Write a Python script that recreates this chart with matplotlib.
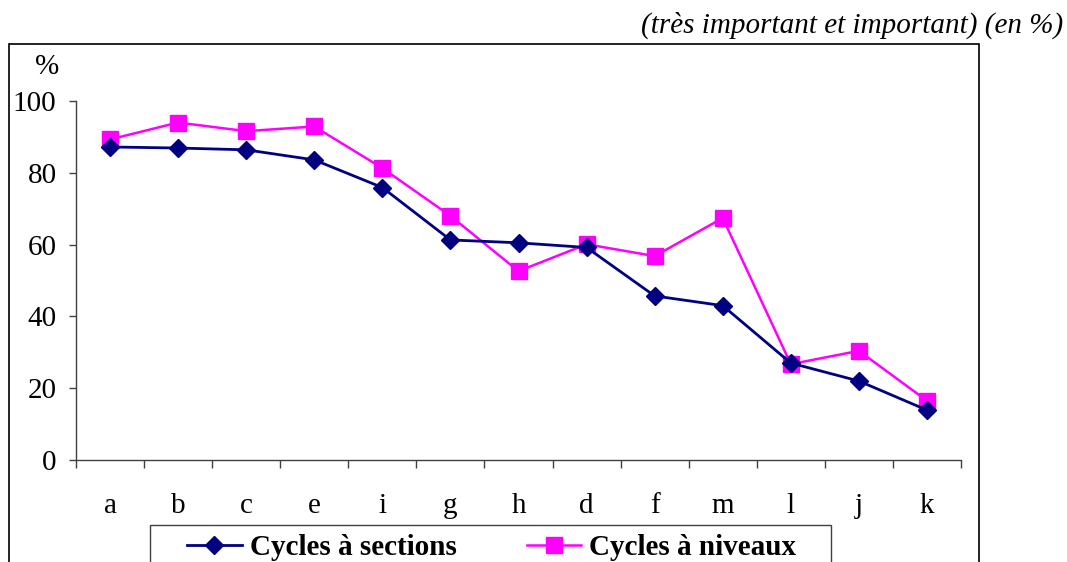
import matplotlib
matplotlib.use("Agg")
import matplotlib.pyplot as plt
from matplotlib.patches import Rectangle

plt.rcParams['font.family'] = ['Liberation Serif', 'DejaVu Serif']

# data
categories = ["a", "b", "c", "e", "i", "g", "h", "d", "f", "m", "l", "j", "k"]
cycles_sections = [87.2, 86.9, 86.4, 83.6, 75.9, 61.3, 60.5, 59.2, 45.7, 43.0, 27.0, 22.0, 13.9]
cycles_niveaux = [89.3, 94.0, 91.6, 92.9, 81.3, 68.0, 52.6, 60.1, 56.8, 67.4, 26.7, 30.4, 16.5]
y_ticks = [0, 20, 40, 60, 80, 100]

W, H = 1067, 562
fig = plt.figure(figsize=(W / 100, H / 100), dpi=100)
ax = fig.add_axes([76 / W, (H - 460) / H, (961 - 76) / W, (460 - 101) / H])

x = list(range(len(categories)))
ax.plot(x, cycles_sections, color="#000080", lw=2.0, marker="D", ms=9.5,
        label="Cycles à sections", zorder=3)
ax.plot(x, cycles_niveaux, color="#FF00FF", lw=1.8, marker="s", ms=11.5,
        label="Cycles à niveaux", zorder=2)

ax.set_xlim(-0.5, len(categories) - 0.5)
ax.set_ylim(0, 100)
ax.set_yticks(y_ticks)
ax.set_xticks(x)
ax.set_xticklabels(categories)
ax.set_xticks([i - 0.5 for i in range(len(categories) + 1)], minor=True)
ax.tick_params(axis="x", which="major", length=0, pad=24, labelsize=21)
ax.tick_params(axis="x", which="minor", length=6, width=1, color="#404040", direction="out")
ax.tick_params(axis="y", length=5, width=1, color="#404040", labelsize=21, pad=9)

for side in ("top", "right"):
    ax.spines[side].set_visible(False)
for side in ("left", "bottom"):
    ax.spines[side].set_color("#404040")
    ax.spines[side].set_linewidth(1.0)

# % label above y axis
fig.text(47 / W, 1 - 67 / H, "%", ha="center", va="center", fontsize=21)

# title at top right
fig.text(1063 / W, 1 - 25 / H, "(très important et important) (en %)",
         ha="right", va="center", fontsize=21, style="italic")

# outer frame, runs past the bottom edge
frame = Rectangle((9 / W, -0.1), (979 - 9) / W, 1.1 - 44 / H, transform=fig.transFigure,
                  fill=False, edgecolor="black", lw=1.2, clip_on=False)
fig.patches.append(frame)

# legend box, also cut by the bottom edge
leg_box = Rectangle((150 / W, -0.1), (831 - 150) / W, 0.1 + (H - 525) / H,
                    transform=fig.transFigure, fill=False, edgecolor="#404040",
                    lw=1.0, clip_on=False)
fig.patches.append(leg_box)

leg = fig.legend(loc="upper left", bbox_to_anchor=(187 / W, 1 - 534 / H), ncol=2,
                 frameon=False, prop={"weight": "bold", "size": 21},
                 handlelength=1.88, columnspacing=2.4, borderpad=0,
                 handletextpad=0.27, borderaxespad=0)

fig.savefig("out.png", dpi=100)
